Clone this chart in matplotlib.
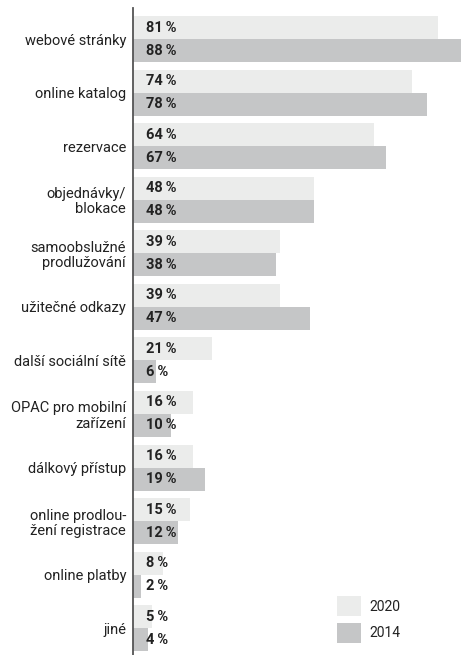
import numpy as np
import matplotlib.pyplot as plt
from matplotlib.patches import Patch

#Data
categories = ["webové stránky", "online katalog", "rezervace", "objednávky/\nblokace",
              "samoobslužné\nprodlužování", "užitečné odkazy", "další sociální sítě",
              "OPAC pro mobilní\nzařízení", "dálkový přístup", "online prodlou-\nžení registrace",
              "online platby", "jiné"]
values_2020 = [81, 74, 64, 48, 39, 39, 21, 16, 16, 15, 8, 5]
values_2014 = [88, 78, 67, 48, 38, 47, 6, 10, 19, 12, 2, 4]
series_labels = ["2020", "2014"]

plt.rcParams['font.family'] = ['Roboto', 'DejaVu Sans']

c2020 = "#EBECEB"
c2014 = "#C5C6C7"
txt = "#222222"

fig = plt.figure(figsize=(4.61, 6.55), dpi=100)
ax = fig.add_axes([133/461, 0, 1 - 133/461, (655 - 8)/655])

y = np.arange(len(categories))
h = 0.43
ax.barh(y - h/2, values_2020, height=h, color=c2020, label=series_labels[0])
ax.barh(y + h/2, values_2014, height=h, color=c2014, label=series_labels[1])

#value labels inside the bars
for i in range(len(categories)):
    ax.annotate(f"{values_2020[i]}\u2009%", xy=(0, y[i] - h/2), xytext=(9, 0),
                textcoords="offset points", va="center", ha="left",
                fontsize=10.5, fontweight="bold", color=txt)
    ax.annotate(f"{values_2014[i]}\u2009%", xy=(0, y[i] + h/2), xytext=(9, 0),
                textcoords="offset points", va="center", ha="left",
                fontsize=10.5, fontweight="bold", color=txt)

ax.set_xlim(0, 87)
ax.set_ylim(11.5, -0.58)
ax.set_yticks(y)
ax.set_yticklabels(categories, fontsize=10.5, color=txt, linespacing=1.1, ha="right")
ax.tick_params(axis="y", length=0, pad=5)
ax.set_xticks([])

for s in ["top", "right", "bottom"]:
    ax.spines[s].set_visible(False)
ax.spines["left"].set_color("#555555")
ax.spines["left"].set_linewidth(1.3)

#legend in the lower right
handles = [Patch(facecolor=c2020, label="2020"), Patch(facecolor=c2014, label="2014")]
fig.legend(handles=handles, loc="lower left", bbox_to_anchor=(324/461, 0.0),
           frameon=False, fontsize=10, handlelength=1.75, handleheight=1.75,
           labelspacing=0.55, handletextpad=0.6, labelcolor=txt)

fig.savefig("out.png", dpi=100)
